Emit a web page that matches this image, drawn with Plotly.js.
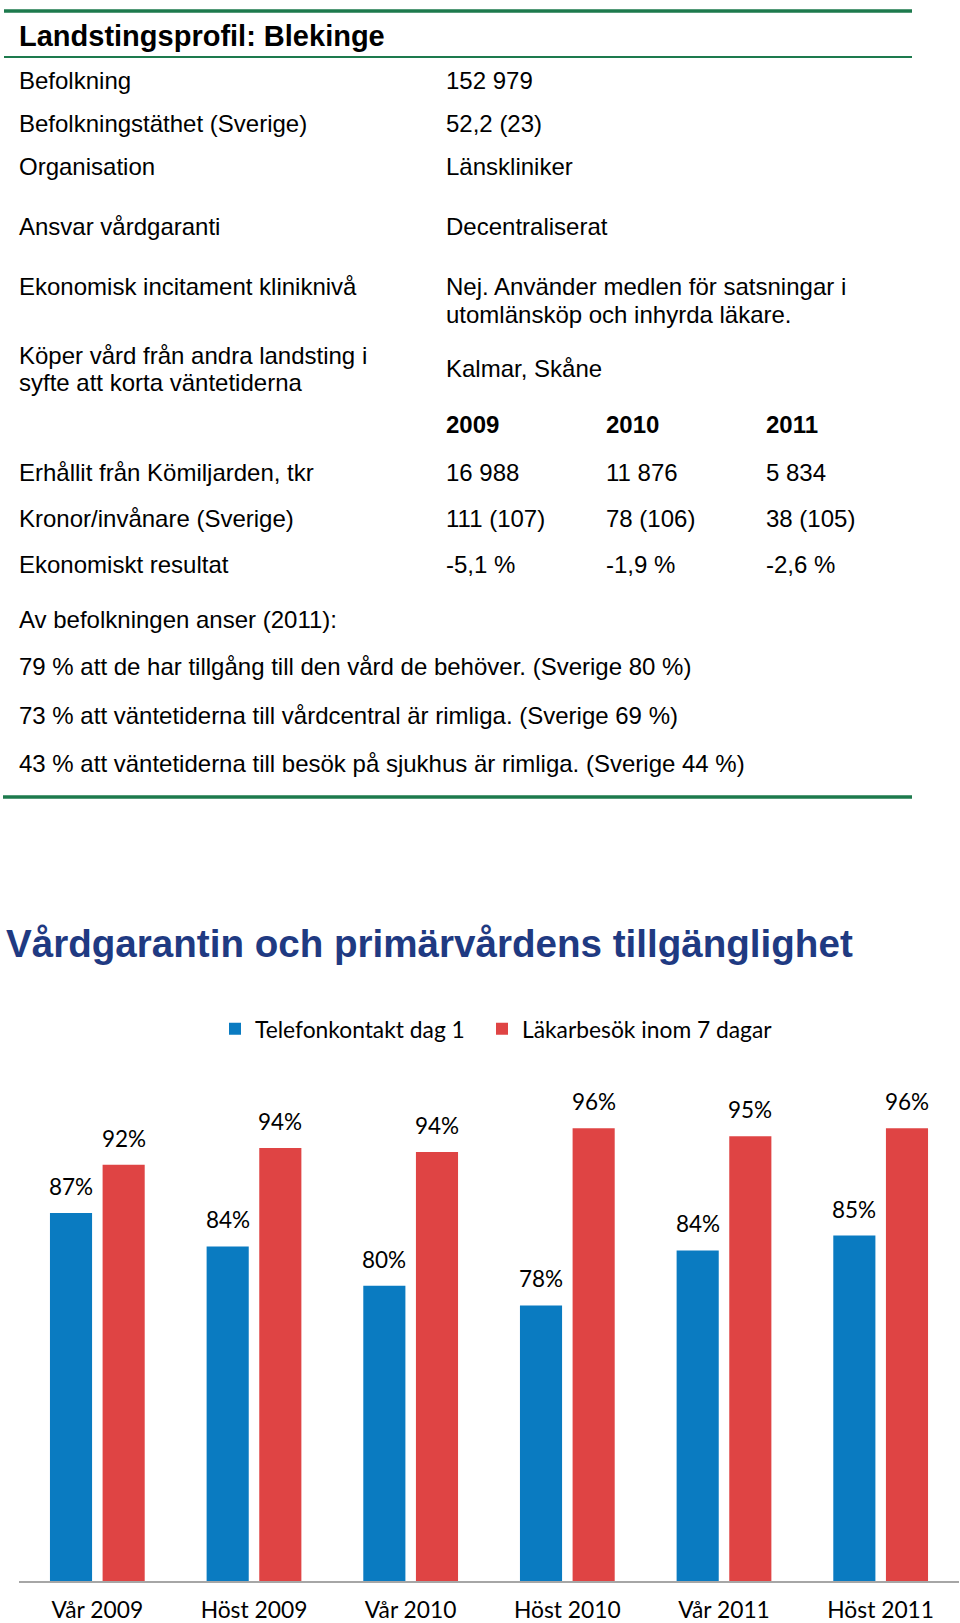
<!DOCTYPE html>
<html>
<head>
<meta charset="utf-8">
<script src="https://cdn.plot.ly/plotly-3.0.1.min.js"></script>
<style>
  html, body { margin: 0; padding: 0; background: #ffffff; }
  #chart { width: 960px; height: 1623px; }
</style>
</head>
<body>
<div id="chart"></div>
<script>
// ---------------- DATA ----------------
const profileTitle = "Landstingsprofil: Blekinge";

const infoLabels = [
  "Befolkning",
  "Befolkningstäthet (Sverige)",
  "Organisation",
  "Ansvar vårdgaranti",
  "Ekonomisk incitament kliniknivå",
  "Köper vård från andra landsting i\nsyfte att korta väntetiderna"
];
const infoValues = [
  "152 979",
  "52,2 (23)",
  "Länskliniker",
  "Decentraliserat",
  "Nej. Använder medlen för satsningar i\nutomlänsköp och inhyrda läkare.",
  "Kalmar, Skåne"
];

const years = ["2009", "2010", "2011"];
const fundLabels = ["Erhållit från Kömiljarden, tkr", "Kronor/invånare (Sverige)", "Ekonomiskt resultat"];
const funds2009 = ["16 988", "111 (107)", "-5,1 %"];
const funds2010 = ["11 876", "78 (106)", "-1,9 %"];
const funds2011 = ["5 834", "38 (105)", "-2,6 %"];

const opinionHeader = "Av befolkningen anser (2011):";
const opinions = [
  "79 % att de har tillgång till den vård de behöver. (Sverige 80 %)",
  "73 % att väntetiderna till vårdcentral är rimliga. (Sverige 69 %)",
  "43 % att väntetiderna till besök på sjukhus är rimliga. (Sverige 44 %)"
];

const chartTitle = "Vårdgarantin och primärvårdens tillgänglighet";
const periods = ["Vår 2009", "Höst 2009", "Vår 2010", "Höst 2010", "Vår 2011", "Höst 2011"];
const seriesNames = ["Telefonkontakt dag 1", "Läkarbesök inom 7 dagar"];
const telefonkontakt = [87.4, 84.0, 80.0, 78.0, 83.6, 85.1];
const lakarbesok = [92.3, 94.0, 93.6, 96.0, 95.2, 96.0];

// ---------------- LAYOUT / STYLE ----------------
const W = 960, H = 1623;
const M = { l: 19, r: 1, t: 1089, b: 42 };
const plotW = W - M.l - M.r, plotH = H - M.t - M.b;
const px2x = px => (px - M.l) / plotW;
const py2y = py => (H - M.b - py) / plotH;

const ARIAL = "Liberation Sans, Arial, sans-serif";
const CALIBRI = "Lato, Carlito, Calibri, sans-serif";
const GREEN = "#1d7a4d";
const BLUE = "#0a7bc1";
const RED = "#df4444";
const BODY = 24;
const LINE_STEP = 27.5;

const annotations = [];
const shapes = [];

function addText(text, px, py, opts) {
  const lines = text.split("\n");
  lines.forEach((ln, i) => {
    annotations.push(Object.assign({
      text: ln,
      xref: "paper", yref: "paper",
      x: px2x(px), y: py2y(py + i * LINE_STEP),
      xanchor: "left", yanchor: "middle",
      showarrow: false,
      font: { family: ARIAL, size: BODY, color: "#000000" }
    }, opts || {}));
  });
}
function hline(x0, x1, py, width) {
  shapes.push({
    type: "line", xref: "paper", yref: "paper",
    x0: px2x(x0), x1: px2x(x1), y0: py2y(py), y1: py2y(py),
    line: { color: GREEN, width: width }
  });
}

// green rules
hline(4, 912, 11, 3.5);
hline(4, 912, 57, 2);
hline(3, 912, 797, 3.5);

// profile title
addText(profileTitle, 17, 35.5, { font: { family: ARIAL, size: 29, color: "#000000", weight: "bold" } });

// profile rows
const labelX = 17, valueX = 444;
const infoLabelY = [80, 123, 166.5, 226.5, 286.5, 355];
const infoValueY = [80, 123, 166.5, 226.5, 286.5, 368.5];
infoLabels.forEach((t, i) => addText(t, labelX, infoLabelY[i]));
infoValues.forEach((t, i) => addText(t, valueX, infoValueY[i]));

// year columns
const colX = [444, 604, 764];
years.forEach((y, j) => addText(y, colX[j], 424.5, { font: { family: ARIAL, size: BODY, color: "#000000", weight: "bold" } }));
const fundY = [472, 518, 564.5];
const fundCols = [funds2009, funds2010, funds2011];
fundLabels.forEach((t, i) => {
  addText(t, labelX, fundY[i]);
  fundCols.forEach((col, j) => addText(col[i], colX[j], fundY[i]));
});

// opinions
addText(opinionHeader, labelX, 619);
const opinionY = [666.5, 715, 763.5];
opinions.forEach((t, i) => addText(t, labelX, opinionY[i]));

// bar geometry
const BARGAP = 0.328, BARGROUPGAP = 0.2;
const pxPerCat = plotW / periods.length;
const barShift = (1 - BARGAP) / 4 * pxPerCat;

// data labels
[telefonkontakt, lakarbesok].forEach((vals, s) => {
  vals.forEach((v, i) => {
    annotations.push({
      text: Math.round(v) + "%",
      xref: "x", yref: "y",
      x: periods[i], y: v,
      xshift: s === 0 ? -barShift : barShift,
      yshift: 11,
      xanchor: "center", yanchor: "bottom",
      showarrow: false,
      font: { family: CALIBRI, size: 22.5, color: "#000000" }
    });
  });
});

const traces = [
  {
    type: "bar", name: seriesNames[0], x: periods, y: telefonkontakt,
    marker: { color: BLUE }, hoverinfo: "skip", legend: "legend"
  },
  {
    type: "bar", name: seriesNames[1], x: periods, y: lakarbesok,
    marker: { color: RED }, hoverinfo: "skip", legend: "legend2"
  }
];

const legendStyle = {
  orientation: "h",
  xanchor: "left",
  y: py2y(1029), yanchor: "middle",
  font: { family: CALIBRI, size: 22.8, color: "#000000" },
  bgcolor: "rgba(0,0,0,0)"
};

const layout = {
  width: W, height: H,
  margin: M,
  paper_bgcolor: "#ffffff",
  plot_bgcolor: "#ffffff",
  font: { family: CALIBRI, size: 22, color: "#000000" },
  title: {
    text: chartTitle,
    xref: "container", yref: "container",
    x: 6 / W, xanchor: "left",
    y: 1 - 943.5 / H, yanchor: "middle",
    font: { family: ARIAL, size: 38.6, color: "#1f3a82", weight: "bold" }
  },
  barmode: "group",
  bargap: BARGAP,
  bargroupgap: BARGROUPGAP,
  showlegend: true,
  legend: Object.assign({}, legendStyle, { x: px2x(215) }),
  legend2: Object.assign({}, legendStyle, { x: px2x(482) }),
  xaxis: {
    type: "category",
    showgrid: false, zeroline: false,
    showline: true, linecolor: "#a6a6a6", linewidth: 2,
    ticks: "", ticklabelstandoff: 8,
    tickfont: { family: CALIBRI, size: 22.8, color: "#000000" },
    fixedrange: true
  },
  yaxis: {
    range: [50, 100],
    visible: false,
    showgrid: false, zeroline: false,
    fixedrange: true
  },
  annotations: annotations,
  shapes: shapes
};

Plotly.newPlot("chart", traces, layout, { staticPlot: true, displayModeBar: false });
</script>
</body>
</html>
